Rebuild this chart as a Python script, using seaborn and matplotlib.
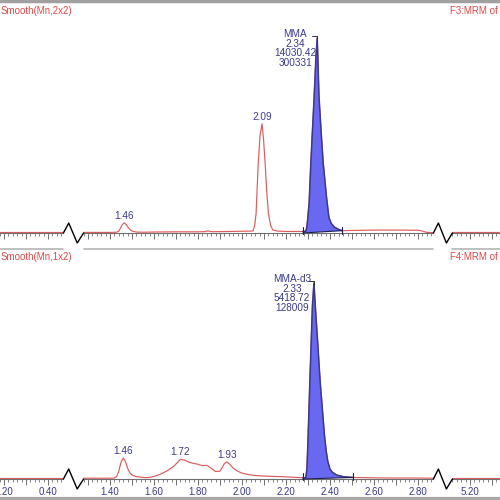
import numpy as np
import pandas as pd
import matplotlib
matplotlib.use("Agg")
import matplotlib.pyplot as plt
import seaborn as sns
from matplotlib.ticker import MultipleLocator, FuncFormatter

sns.set_style("white")
plt.rcParams['font.family'] = ['Liberation Sans', 'DejaVu Sans']

# ---------------- data (retention time in min, relative intensity in %) -------------
top_t = [1.28, 1.35, 1.40, 1.43, 1.44, 1.45, 1.456, 1.464, 1.472, 1.48, 1.49, 1.50, 1.52,
         1.55, 1.60, 1.70, 1.80, 1.83, 1.845, 1.86, 1.90, 1.95, 2.00, 2.04, 2.05, 2.058,
         2.064, 2.074, 2.082, 2.091, 2.098, 2.105, 2.112, 2.12, 2.13, 2.14, 2.16, 2.20,
         2.25, 2.28, 2.29, 2.295, 2.305, 2.313, 2.32, 2.328, 2.336, 2.342, 2.35, 2.359,
         2.369, 2.384, 2.395, 2.405, 2.42, 2.44, 2.455, 2.50, 2.60, 2.70, 2.80, 2.82,
         2.84, 2.87]
top_i = [0.3, 0.3, 0.3, 0.4, 1.0, 3.0, 4.3, 5.2, 4.5, 3.2, 1.8, 1.0, 0.5,
         0.4, 0.5, 0.6, 0.6, 0.7, 1.1, 0.7, 0.7, 0.8, 0.9, 1.0, 1.0, 4.0,
         10.0, 36.0, 50.0, 56.0, 48.0, 36.0, 22.0, 10.0, 4.0, 1.5, 1.0, 0.8,
         0.8, 0.8, 0.9, 3.0, 15.0, 36.0, 52.0, 70.0, 90.0, 100.0, 70.0, 53.0,
         36.0, 18.5, 8.0, 5.0, 3.0, 1.8, 1.2, 1.3, 1.5, 1.5, 1.4, 1.0,
         0.3, 0.2]

bot_t = [1.28, 1.35, 1.40, 1.42, 1.43, 1.44, 1.45, 1.46, 1.47, 1.48, 1.49, 1.50, 1.52,
         1.54, 1.56, 1.58, 1.60, 1.63, 1.66, 1.69, 1.72, 1.74, 1.76, 1.78, 1.80, 1.82,
         1.84, 1.86, 1.88, 1.90, 1.92, 1.93, 1.94, 1.96, 1.98, 2.00, 2.03, 2.06, 2.10,
         2.15, 2.20, 2.25, 2.28, 2.29, 2.295, 2.30, 2.31, 2.32, 2.327, 2.335, 2.345,
         2.355, 2.365, 2.375, 2.383, 2.39, 2.40, 2.41, 2.43, 2.46, 2.50, 2.55, 2.60,
         2.70, 2.80, 2.87]
bot_i = [0.4, 0.4, 0.4, 0.5, 1.2, 4.0, 8.5, 10.7, 9.0, 5.5, 3.2, 2.0, 1.2,
         0.9, 0.7, 0.8, 1.3, 2.5, 4.2, 6.5, 10.0, 9.6, 8.5, 8.0, 7.5, 6.8,
         7.0, 5.5, 3.8, 4.0, 7.8, 8.7, 8.0, 5.5, 4.0, 3.0, 2.2, 1.8, 1.5,
         1.3, 1.1, 0.8, 0.6, 0.7, 5.0, 20.0, 55.0, 88.0, 100.0, 85.0, 68.0,
         50.0, 36.0, 22.0, 14.0, 9.0, 5.0, 3.5, 2.0, 1.2, 0.8, 0.7, 0.6,
         0.5, 0.5, 0.4]

left_t = [0.18, 0.47]
left_top_i = [0.3, 0.3]
left_bot_i = [0.4, 0.4]
right_t = [5.12, 5.34]
right_top_i = [0.3, 0.3]
right_bot_i = [0.4, 0.4]

top_peak_times = [1.464, 2.091]
top_peak_labels = ["1.46", "2.09"]
bot_peak_times = [1.46, 1.72, 1.93]
bot_peak_labels = ["1.46", "1.72", "1.93"]

top_compound = ["MMA", "2.34", "14030.42", "300331"]
bot_compound = ["MMA-d3", "2.33", "5418.72", "128009"]
top_integration = (2.277, 2.455)
bot_integration = (2.277, 2.505)

top_header_left = "Smooth(Mn,2x2)"
top_header_right = "F3:MRM of"
bot_header_left = "Smooth(Mn,1x2)"
bot_header_right = "F4:MRM of"

# ---------------- layout (pixels) ----------------
W = H = 500
PX_PER_MIN = 220.0
segments = [(0.18, 0.47, 0.40, 48.0), (1.28, 2.87, 1.40, 110.0), (5.12, 5.34, 5.20, 470.0)]
panels = [dict(base=233.0, scale=1.95), dict(base=479.0, scale=1.96)]

RED = '#dc5c5c'
HEAD_RED = '#e04848'
NAVY = '#3a3a8c'
FILL = '#6868f0'
RULER = '#707070'

fig = plt.figure(figsize=(5, 5), dpi=100)
fig.patch.set_facecolor('white')


def seg_px(seg):
    tmin, tmax, t0, p0 = seg
    left = p0 + (tmin - t0) * PX_PER_MIN
    return left, (tmax - tmin) * PX_PER_MIN


def label_fmt(v, pos):
    if abs(round(v / 0.2) * 0.2 - v) < 1e-6:
        return f"{v:.2f}"
    return ""


axes = [[None] * 3 for _ in range(2)]
for pi, pan in enumerate(panels):
    for si, seg in enumerate(segments):
        left, width = seg_px(seg)
        rect = [left / W, (H - pan['base']) / H, width / W, 100 * pan['scale'] / H]
        ax = fig.add_axes(rect)
        ax.patch.set_alpha(0)
        ax.set_xlim(seg[0], seg[1])
        ax.set_ylim(0, 100)
        for s in ['top', 'left', 'right']:
            ax.spines[s].set_visible(False)
        ax.spines['bottom'].set_color(RULER)
        ax.spines['bottom'].set_linewidth(0.8)
        ax.set_yticks([])
        ax.xaxis.set_major_locator(MultipleLocator(0.1))
        ax.xaxis.set_minor_locator(MultipleLocator(0.02))
        ax.xaxis.set_major_formatter(FuncFormatter(label_fmt))
        ax.tick_params(axis='x', which='major', direction='out', length=4, width=0.7,
                       color=RULER, labelsize=7, labelcolor=NAVY, pad=2, bottom=True)
        ax.tick_params(axis='x', which='minor', direction='out', length=2, width=0.6,
                       color=RULER, bottom=True)
        if pi == 0:
            ax.tick_params(labelbottom=False)
        ax.set_xlabel("")
        ax.set_ylabel("")
        axes[pi][si] = ax

traces = [
    [(left_t, left_top_i), (top_t, top_i), (right_t, right_top_i)],
    [(left_t, left_bot_i), (bot_t, bot_i), (right_t, right_bot_i)],
]
for pi in range(2):
    for si in range(3):
        t, i = traces[pi][si]
        df = pd.DataFrame({'t': t, 'i': i})
        ax = axes[pi][si]
        sns.lineplot(data=df, x='t', y='i', ax=ax, color=RED, lw=0.85,
                     estimator=None, sort=False)
        ln = ax.lines[-1]
        ln.set_clip_on(False)
        ln.set_zorder(1.5)
        ax.set_xlabel("")
        ax.set_ylabel("")

# integrated peaks (drawn in a twin overlay so they sit above the trace), labels
peak_info = [
    (top_t, top_i, top_integration, top_compound, top_peak_times, top_peak_labels),
    (bot_t, bot_i, bot_integration, bot_compound, bot_peak_times, bot_peak_labels),
]
for pi, (t, i, (a, b), comp, ptimes, plabels) in enumerate(peak_info):
    ax = axes[pi][1]
    t = np.asarray(t)
    i = np.asarray(i)
    ia, ib = 0.0, np.interp(b, t, i)
    mask = (t >= a) & (t <= b)
    tw = np.concatenate([[a], t[mask], [b]])
    iw = np.concatenate([[np.interp(a, t, i)], i[mask], [ib]])
    basew = ia + (ib - ia) * (tw - a) / (b - a)
    ax.fill_between(tw, iw, basew, facecolor=FILL, edgecolor='none', zorder=5,
                    clip_on=False)
    ax.plot(tw, iw, color=NAVY, lw=1.1, zorder=6, clip_on=False)
    ax.plot([a, b], [ia, ib], color='#202050', lw=0.8, zorder=6, clip_on=False)
    for tt in (a, b):
        ax.plot([tt, tt], [-0.3, 3.2], color='#202050', lw=0.8, zorder=6, clip_on=False)
    # apex
    k = int(np.argmax(i))
    ta, pa = t[k], i[k]
    ax.plot([ta - 0.022, ta, ta], [101.2, 101.2, 99.0], color='#303030', lw=0.7,
            clip_on=False, zorder=6)
    ax.annotate("\n".join(comp), xy=(ta - 0.1, 101.5), xycoords='data',
                xytext=(0, 4.5), textcoords='offset points', ha='center', va='top',
                fontsize=7.2, color=NAVY, linespacing=0.97, annotation_clip=False)
    # small labelled peaks
    for pt, pl in zip(ptimes, plabels):
        h = np.interp(pt, t, i)
        ax.annotate(pl, xy=(pt, h), xytext=(0, 1.5), textcoords='offset points',
                    ha='center', va='bottom', fontsize=7.2, color=NAVY,
                    annotation_clip=False)

# overlay for decorations (breaks, separators, headers)
ov = fig.add_axes([0, 0, 1, 1], zorder=10)
ov.set_xlim(0, W)
ov.set_ylim(H, 0)
ov.axis('off')
ov.patch.set_alpha(0)

ov.plot([0, W], [1.2, 1.2], color='#a0a0a0', lw=2.5)
ov.plot([0, W], [498.5, 498.5], color='#a8a8a8', lw=3)

zig_dx = [0, 5, 13, 19]
zig_dy = [0, -10, 10, 0]
for pi, pan in enumerate(panels):
    for si in range(2):
        l0, w0 = seg_px(segments[si])
        start = l0 + w0
        end = seg_px(segments[si + 1])[0]
        sc = (end - start) / 19.0
        ov.plot([start + d * sc for d in zig_dx], [pan['base'] + d for d in zig_dy],
                color='black', lw=1.0)
    if pi == 0:
        for seg in segments:
            l0, w0 = seg_px(seg)
            ov.plot([l0, l0 + w0], [249, 249], color='#b4b4b4', lw=1.2)

ov.text(1, 11, top_header_left, fontsize=7, color=HEAD_RED, ha='left', va='center')
ov.text(498, 11, top_header_right, fontsize=7, color=HEAD_RED, ha='right', va='center')
ov.text(1, 257, bot_header_left, fontsize=7, color=HEAD_RED, ha='left', va='center')
ov.text(498, 257, bot_header_right, fontsize=7, color=HEAD_RED, ha='right', va='center')

fig.savefig("out.png", dpi=100)
